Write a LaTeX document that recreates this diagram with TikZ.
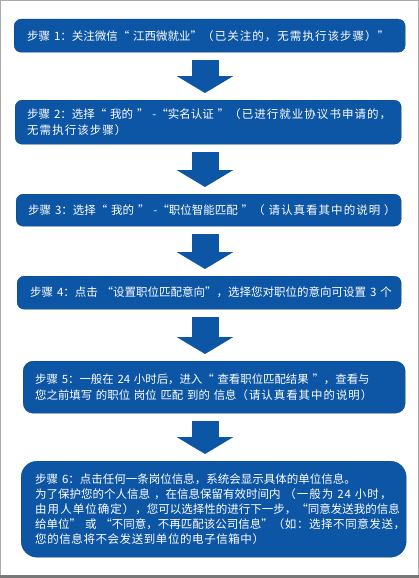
\documentclass[tikz,border=0pt]{standalone}
\usepackage{fontspec}
\setmainfont{Noto Sans CJK SC}
\newfontfamily\kai[LetterSpace=9]{Noto Sans CJK SC}
\newfontfamily\kaitight[LetterSpace=5]{Noto Sans CJK SC}
\usetikzlibrary{arrows.meta,positioning,calc}
\definecolor{stepblue}{RGB}{13,85,165}
\definecolor{frame}{RGB}{170,170,170}
\definecolor{basebar}{RGB}{120,120,120}
\tikzset{
  stepbox/.style={draw=stepblue!80!black,fill=stepblue,text=white,rounded corners=#1,
    anchor=north west,align=left,inner ysep=0pt,font=\fontsize{11.5}{16}\selectfont},
  stepbox/.default=7pt,
  flowarrow/.style={draw=stepblue,line width=27pt,-{Triangle[length=17pt,width=56pt]},
    shorten <=8pt,shorten >=7pt},
}

\begin{document}
\begin{tikzpicture}[x=1pt,y=-1pt]
  \useasboundingbox (0,0) rectangle (419,578);
  \fill[white] (0,0) rectangle (419,578);
  \draw[frame,line width=1pt] (0.5,0.5) rectangle (418.5,577.5);
  \fill[basebar] (0,574.5) rectangle (419,578);

  % the six steps
  \node[stepbox,minimum width=391pt,minimum height=33pt,text width=365pt,inner xsep=13pt] (s1) at (14,19)
    {步骤~1：关注微信“~江西微就业”{\kai（已关注的，无需执行该步骤）”}};
  \node[stepbox,minimum width=386pt,minimum height=44pt,text width=362pt,inner xsep=12pt] (s2) at (15,100)
    {步骤~2：选择“~我的~”~-“实名认证~”{\kai（已进行就业协议书申请的，\\无需执行该步骤）}};
  \node[stepbox,minimum width=385pt,minimum height=32pt,text width=361pt,inner xsep=12pt] (s3) at (16,194)
    {步骤~3：选择“~我的~”~-“职位智能匹配~”{\kai（~请认真看其中的说明~）}};
  \node[stepbox,minimum width=384pt,minimum height=33pt,text width=358pt,inner xsep=13pt] (s4) at (17,276)
    {步骤~4：点击~“设置职位匹配意向”，选择您对职位的意向可设置~3~个};
  \node[stepbox=10pt,minimum width=382pt,minimum height=52pt,text width=358pt,inner xsep=12pt,
    font=\fontsize{11.4}{16}\selectfont] (s5) at (23,361)
    {步骤 5：一般在 24 小时后，进入“ 查看职位匹配结果 ”，查看与\\
     您之前填写 的职位 岗位 匹配 到的 信息{\kai（请认真看其中的说明）}};
  \node[stepbox=16pt,minimum width=385pt,minimum height=96pt,text width=357pt,inner xsep=14pt,
    font=\fontsize{11.5}{14.8}\selectfont] (s6) at (21,461)
    {步骤 6：点击任何一条岗位信息，系统会显示具体的单位信息。\\
     为了保护您的个人信息 ，在信息保留有效时间内 {\kai（一般为 24 小时，\\
     由用人单位确定），}您可以选择性的进行下一步，“同意发送我的信息\\
     给单位” 或 “不同意，不再匹配该公司信息”{\kaitight（如：选择不同意发送，\\
     您的信息将不会发送到单位的电子信箱中）}};

  % arrows between steps
  \coordinate (ax) at (205,0);
  \foreach \a/\b in {s1/s2,s2/s3,s3/s4,s4/s5,s5/s6}
    \draw[flowarrow] (\a.south -| ax) -- (\b.north -| ax);
\end{tikzpicture}
\end{document}
